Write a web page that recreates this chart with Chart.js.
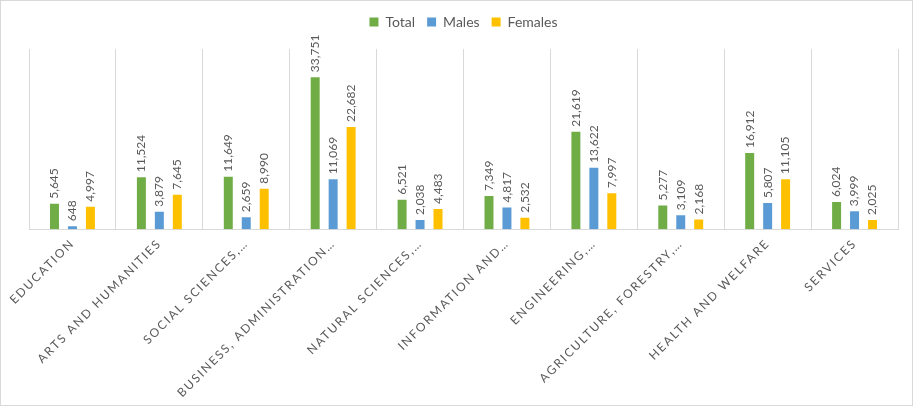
<!DOCTYPE html>
<html>
<head>
<meta charset="utf-8">
<script src="https://cdn.jsdelivr.net/npm/chart.js@4/dist/chart.umd.min.js"></script>
<style>
  html, body { margin: 0; padding: 0; background: #fff; }
  #wrap { width: 913px; height: 406px; box-sizing: border-box; border: 1px solid #d9d9d9; }
  canvas { display: block; }
</style>
</head>
<body>
<div id="wrap"><canvas id="chart" width="911" height="404"></canvas></div>
<script>
const categories = [
  "EDUCATION",
  "ARTS AND HUMANITIES",
  "SOCIAL SCIENCES,…",
  "BUSINESS, ADMINISTRATION…",
  "NATURAL SCIENCES,…",
  "INFORMATION AND…",
  "ENGINEERING,…",
  "AGRICULTURE, FORESTRY,…",
  "HEALTH AND WELFARE",
  "SERVICES",
];
const totalValues = [5645, 11524, 11649, 33751, 6521, 7349, 21619, 5277, 16912, 6024];
const maleValues = [648, 3879, 2659, 11069, 2038, 4817, 13622, 3109, 5807, 3999];
const femaleValues = [4997, 7645, 8990, 22682, 4483, 2532, 7997, 2168, 11105, 2025];
const yMax = 40000;

const TEXT = "#595959";
const GRID = "#d9d9d9";
const FONT = "Lato, 'Open Sans', sans-serif";
const SPACING = "1.8px";

// wrap a legend method so it runs without the axis letter spacing
function noSpacing(lg, name, after) {
  const fn = lg[name].bind(lg);
  lg[name] = function () {
    const ctx = this.ctx;
    const s = ctx.letterSpacing;
    ctx.letterSpacing = "0px";
    fn();
    if (after) after.call(this);
    ctx.letterSpacing = s;
  };
}

// canvas letter spacing for the axis labels (Excel-style spaced caps)
const spacing = {
  id: "spacing",
  beforeUpdate(c) { c.ctx.letterSpacing = SPACING; },
  beforeDraw(c) { c.ctx.letterSpacing = SPACING; },
  beforeLayout(c) {
    const lg = c.legend;
    if (lg && !lg._patched) {
      noSpacing(lg, "fit", function () { this.height += 10; });
      noSpacing(lg, "draw");
      lg._patched = true;
    }
  },
};

// rotated value labels above each bar
const barLabels = {
  id: "barLabels",
  afterDatasetsDraw(c) {
    const ctx = c.ctx;
    ctx.save();
    ctx.letterSpacing = "0px";
    ctx.font = "12px " + FONT;
    ctx.fillStyle = TEXT;
    ctx.textAlign = "left";
    ctx.textBaseline = "middle";
    c.data.datasets.forEach((ds, i) => {
      c.getDatasetMeta(i).data.forEach((bar, j) => {
        ctx.save();
        ctx.translate(bar.x, bar.y - 5);
        ctx.rotate(-Math.PI / 2);
        ctx.fillText(ds.data[j].toLocaleString("en-US"), 0, 0);
        ctx.restore();
      });
    });
    ctx.restore();
  },
};

new Chart(document.getElementById("chart"), {
  type: "bar",
  data: {
    labels: categories,
    datasets: [
      { label: "Total", data: totalValues, backgroundColor: "#70ad47" },
      { label: "Males", data: maleValues, backgroundColor: "#5b9bd5" },
      { label: "Females", data: femaleValues, backgroundColor: "#ffc000" },
    ],
  },
  options: {
    responsive: false,
    animation: false,
    barPercentage: 0.5,
    categoryPercentage: 0.62,
    layout: { padding: { left: 28, right: 14, top: 2, bottom: -2 } },
    plugins: {
      legend: {
        position: "top",
        labels: {
          boxWidth: 9,
          boxHeight: 9,
          padding: 12,
          color: TEXT,
          font: { family: FONT, size: 14 },
        },
      },
      tooltip: { enabled: false },
    },
    scales: {
      x: {
        grid: { display: true, offset: true, color: GRID, drawTicks: false },
        border: { display: true, color: GRID },
        ticks: {
          color: TEXT,
          font: { family: FONT, size: 12 },
          minRotation: 45,
          maxRotation: 45,
          autoSkip: false,
          padding: 7,
        },
      },
      y: {
        display: false,
        min: 0,
        max: yMax,
      },
    },
  },
  plugins: [spacing, barLabels],
});
</script>
</body>
</html>
